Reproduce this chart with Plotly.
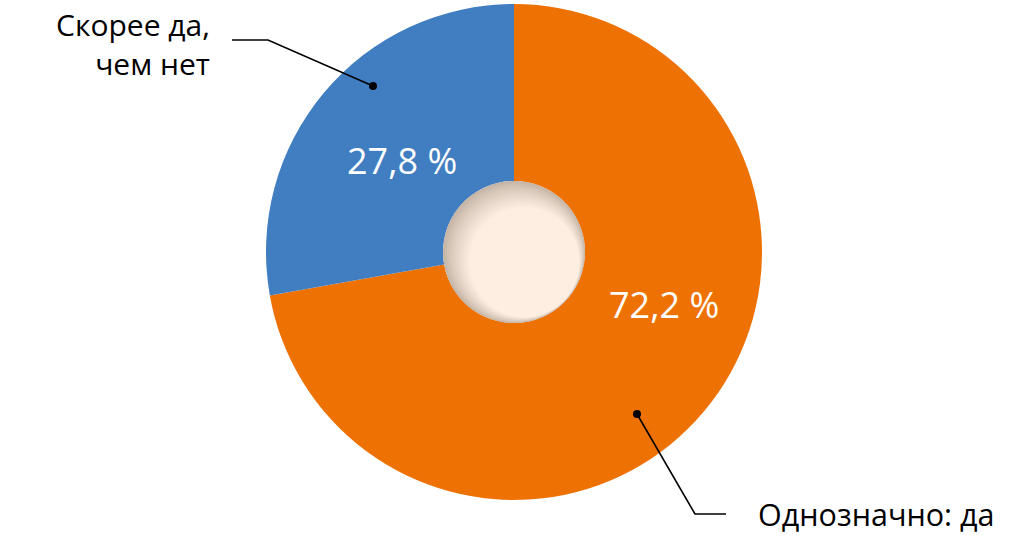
import math
import plotly.graph_objects as go

labels = ["Однозначно: да", "Скорее да, чем нет"]
values = [72.2, 27.8]
value_texts = ["72,2 %", "27,8 %"]
colors = ["#ee7203", "#417ec1"]

W, H = 1028, 552
CX, CY, R = 514, 252, 248
HOLE_R = 71

fig = go.Figure()
fig.add_trace(go.Pie(
    labels=labels, values=values, sort=False, direction="clockwise",
    rotation=0, hole=HOLE_R / R, textinfo="none", hoverinfo="skip",
    marker=dict(colors=colors, line=dict(width=0)), showlegend=False,
    domain=dict(x=[(CX - R) / W, (CX + R) / W],
                y=[(H - CY - R) / H, (H - CY + R) / H]),
))

fig.update_layout(
    xaxis=dict(range=[0, W], visible=False, fixedrange=True),
    yaxis=dict(range=[H, 0], visible=False, fixedrange=True),
)

shapes = []
dark = (196, 180, 166)
light = (253, 238, 225)
steps = 20
d = (math.cos(math.radians(45)), math.sin(math.radians(45)))
for i in range(steps + 1):
    t = i / steps
    r = HOLE_R - 16 * t
    off = HOLE_R - r
    cx = CX + off * d[0] * 0.9
    cy = CY + off * d[1] * 0.9
    e = t ** 0.8
    col = tuple(int(dark[k] + (light[k] - dark[k]) * e) for k in range(3))
    shapes.append(dict(type="circle", xref="x", yref="y",
                       x0=cx - r, x1=cx + r, y0=cy - r, y1=cy + r,
                       fillcolor="rgb(%d,%d,%d)" % col, line=dict(width=0)))

shapes.append(dict(type="path", xref="x", yref="y",
                   path="M 232 40 L 268 40 L 373 86",
                   line=dict(color="black", width=1.6)))
shapes.append(dict(type="path", xref="x", yref="y",
                   path="M 637 414 L 695 514 L 726 514",
                   line=dict(color="black", width=1.6)))
for (x, y) in [(373, 86), (637, 414)]:
    shapes.append(dict(type="circle", xref="x", yref="y",
                       x0=x - 4, x1=x + 4, y0=y - 4, y1=y + 4,
                       fillcolor="black", line=dict(width=0)))

FONT = "Open Sans"
annotations = [
    dict(x=402, y=160, text=value_texts[1], showarrow=False, xref="x", yref="y",
         font=dict(family=FONT, size=36, color="white")),
    dict(x=664, y=304, text=value_texts[0], showarrow=False, xref="x", yref="y",
         font=dict(family=FONT, size=36, color="white")),
    dict(x=212, y=44, text="Скорее да,<br>чем нет", showarrow=False, xref="x", yref="y",
         xanchor="right", yanchor="middle", align="right",
         font=dict(family=FONT, size=30, color="black")),
    dict(x=756, y=514, text="Однозначно: да", showarrow=False, xref="x", yref="y",
         xanchor="left", yanchor="middle",
         font=dict(family=FONT, size=30.5, color="black")),
]

fig.update_layout(width=W, height=H, margin=dict(l=0, r=0, t=0, b=0),
                  paper_bgcolor="white", plot_bgcolor="rgba(0,0,0,0)",
                  shapes=shapes, annotations=annotations)
fig.write_html("out.html", config={"displayModeBar": False, "staticPlot": True},
               post_script="document.body.style.margin='0px';document.body.style.overflow='hidden';")
